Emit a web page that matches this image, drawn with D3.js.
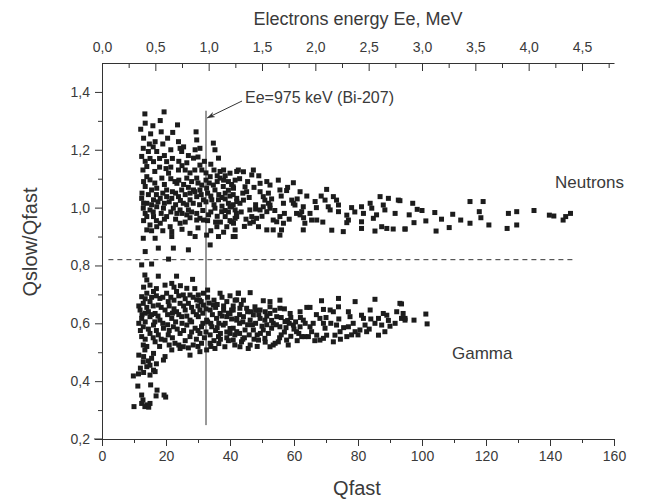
<!DOCTYPE html>
<html><head><meta charset="utf-8">
<script src="https://cdn.jsdelivr.net/npm/d3@7"></script>
<style>body{margin:0;background:#fff} svg{display:block} text{font-family:"Liberation Sans",Arial,sans-serif}</style>
</head><body><svg id="c" width="653" height="501"></svg>
<script>
const xTicks=[0,20,40,60,80,100,120,140,160];
const xMinor=[10,30,50,70,90,110,130,150];
const yTicks=[0.2,0.4,0.6,0.8,1.0,1.2,1.4];
const yMinor=[0.3,0.5,0.7,0.9,1.1,1.3];
const eTicks=[0,0.5,1.0,1.5,2.0,2.5,3.0,3.5,4.0,4.5];
const eMinor=[0.25,0.75,1.25,1.75,2.25,2.75,3.25,3.75,4.25,4.75];
const threshold=0.82, thresholdRange=[2,148];
const biEnergy=0.975, biRange=[0.248,1.335];
const labels={top:"Electrons energy Ee, MeV",bottom:"Qfast",left:"Qslow/Qfast",ann:"Ee=975 keV (Bi-207)",n:"Neutrons",g:"Gamma"};

const neutrons=[
[13.4,1.324],[19.4,1.331],[18.2,1.301],[13.5,1.292],[15.9,1.283],[12.1,1.271],[23.6,1.286],[18.5,1.262],[22.1,1.26],[29.4,1.262],
[15.2,1.255],[16.6,1.228],[23.9,1.228],[29.6,1.234],[34.8,1.223],[12.9,1.205],[14.5,1.194],[17.1,1.194],[24.4,1.205],[24.9,1.194],
[29.1,1.2],[30.6,1.205],[35.3,1.2],[12.4,1.177],[16.1,1.159],[20.2,1.159],[28.6,1.171],[36.4,1.171],[14,1.142],[23.9,1.13],
[26,1.13],[30.6,1.147],[31.2,1.13],[33.8,1.107],[36.9,1.125],[40,1.119],[14,1.107],[15,1.096],[18.7,1.102],[20.8,1.119],
[22.8,1.09],[26.5,1.102],[28,1.09],[29.6,1.102],[31.2,1.078],[34.8,1.078],[36.9,1.102],[39.5,1.09],[42.1,1.125],[13.5,1.073],
[15.5,1.061],[17.1,1.067],[20.2,1.061],[23.4,1.084],[24.9,1.061],[28.6,1.061],[30.6,1.061],[32.7,1.067],[35.3,1.061],[37.9,1.073],
[41.1,1.067],[12.4,1.032],[14,1.015],[16.1,1.027],[18.2,1.032],[20.2,1.038],[21.8,1.032],[23.9,1.038],[25.4,1.015],[27.5,1.027],
[29.6,1.038],[31.7,1.027],[34.3,1.027],[36.4,1.027],[39.5,1.015],[42.1,1.021],[12.9,0.998],[15,0.992],[17.1,1.003],[19.2,0.998],
[22.3,0.998],[24.4,0.992],[27,0.992],[29.6,0.98],[35.3,0.998],[37.4,0.986],[40.5,1.003],[14,0.969],[16.1,0.969],[20.2,0.969],
[23.4,0.98],[26.5,0.975],[30.6,0.963],[33.3,0.975],[38.5,0.969],[41.6,0.963],[15,0.94],[18.2,0.946],[21.3,0.934],[24.4,0.946],
[29.6,0.957],[31.7,0.957],[35.9,0.934],[39,0.934],[41.1,0.946],[14,0.923],[17.1,0.934],[21.8,0.917],[27.5,0.911],[29.1,0.9],
[32.7,0.905],[36.4,0.9],[41.6,0.9],[12.9,0.894],[16.6,0.894],[21.8,0.9],[33.8,0.871],[13.5,0.848],[17.6,0.86],[22.3,0.86],
[27,0.854],[12.4,0.802],[15.5,0.805],[20.8,0.822],
[13,1.24],[14.8,1.22],[16,1.21],[19,1.22],[20.5,1.24],[21.5,1.2],[25.5,1.21],[27,1.18],[13.5,1.16],[15,1.17],
[18,1.17],[19.5,1.18],[22,1.17],[24,1.16],[26.5,1.155],[30,1.175],[32,1.16],[34,1.15],[12.8,1.13],[16.5,1.125],
[18,1.14],[20,1.135],[21.5,1.14],[25,1.145],[27.5,1.12],[29,1.13],[32.5,1.12],[35,1.13],[38.5,1.11],
[13,1.09],[16.5,1.085],[19.5,1.08],[21.5,1.1],[24,1.095],[25.5,1.08],[27,1.07],[30,1.085],[32.5,1.095],[33.5,1.085],
[36,1.09],[38,1.095],[40.5,1.08],[12.5,1.05],[14.5,1.045],[17,1.045],[19,1.05],[22,1.055],[23,1.05],[26,1.045],
[27.5,1.05],[29,1.055],[31,1.045],[33,1.05],[34,1.04],[36.5,1.045],[38.5,1.05],[40,1.04],
[13,1.015],[15.5,1.01],[17.5,1.02],[19.5,1.015],[21,1.02],[23,1.01],[24.5,1.025],[26.5,1.01],[28.5,1.015],[30.5,1.01],
[32.5,1.02],[35,1.01],[37.5,1.005],[38.5,1.03],[41,1.01],[13.5,0.98],[16,0.985],[18.5,0.98],[21.5,0.985],[25,0.98],
[28,0.985],[31.5,0.99],[34,0.985],[36,0.97],[39.5,0.985],[42,0.98],[13,0.955],[17,0.955],[19.5,0.96],[23,0.96],
[26,0.95],[27.5,0.965],[33,0.955],[37,0.95],[40,0.955],[15.5,0.92],[19,0.92],[25,0.925],[30,0.93],[34,0.92],[38,0.915],
[36,1.11],[38,1.13],[39.5,1.06],[41,1.045],[43,1.1],[44,1.05],[45.5,1.09],[46,1.035],[47.5,1.07],[48,1.01],
[49,1.11],[50,0.97],[52,1.05],[53,1.03],[54,0.99],[56,1.04],[57,0.98],[58,1.07],[61,1.03],[64,1.04],
[65,0.98],[67,1.0],[68.5,1.04],[43.5,0.985],[45,0.96],[44.5,0.935],[38.5,0.99],[37.5,1.035],[35.5,0.95],[48,0.995],
[58.5,0.96],[63,0.965],[69,0.95],[78,1.0],[79,0.985],[96,0.975],[100,0.99],
[42.6,1.13],[44.2,1.124],[47.3,1.13],[46.8,1.113],[41.6,1.095],[41,1.072],[44.7,1.072],[45.2,1.055],[49.4,1.084],[51.5,1.09],
[52.5,1.078],[55.1,1.095],[59.8,1.086],[55.6,1.061],[57.7,1.059],[61.9,1.055],[70.2,1.063],[49.4,1.055],[50.4,1.038],[42.1,1.032],
[44.2,1.026],[43.1,1.015],[50.9,1.026],[52,1.015],[52.5,0.998],[56.7,1.015],[59.3,1.026],[60.3,1.009],[62.9,1.003],[62.4,0.986],
[66.6,1.021],[69.7,1.026],[72.3,1.038],[73.3,1.026],[73.9,1.009],[70.7,1.003],[71.3,0.992],[73.9,0.986],[76.5,0.974],[77,0.957],
[81.1,1.003],[83.8,1.015],[84.3,0.998],[87.9,1.009],[88.4,0.992],[86.9,1.038],[89.5,1.032],[92.6,1.026],[81.7,0.98],[84.8,0.963],
[85.8,0.975],[91.6,0.98],[87.4,0.934],[89,0.928],[91,0.926],[94.7,0.926],[81.1,0.951],[81.1,0.928],[85.3,0.919],[76.5,0.948],
[75.4,0.917],[71.8,0.922],[65.5,0.957],[67.1,0.957],[63.4,0.946],[62.9,0.923],[55.6,0.969],[56.7,0.946],[56.1,0.923],[55.6,0.905],
[53.5,0.957],[54.6,0.951],[46.2,0.992],[46.8,0.969],[48.3,0.963],[47.3,0.951],[49.4,0.992],[50.4,1.003],[51.5,0.986],[52.5,1.009],
[40,1.003],[41.6,0.992],[42.1,0.969],[40.5,0.951],[41.6,0.923],[41,0.9],[46.2,0.946],[48.9,0.934],[51.5,0.923],[53.5,0.923],
[59.8,1.015],[60.8,0.98],[61.9,0.975],
[93.1,1.024],[97.1,1.015],[98.5,0.994],[94.7,0.926],[97.5,0.948],[101.2,0.954],[104.4,0.919],[104,0.983],[106.1,0.96],[108.5,0.931],
[109.6,0.977],[112.1,0.957],[115,1.021],[115,0.946],[119.1,1.021],[117.9,0.986],[118.4,0.965],[120.9,0.94],[127,0.98],[129.6,0.986],
[126.6,0.928],[129.6,0.94],[135,0.99],[139.8,0.974],[141.2,0.971],[144.1,0.957],[144.9,0.969],[146.4,0.98]
];

const gamma=[
[13.4,0.767],[14,0.75],[17.6,0.763],[23.3,0.763],[28.3,0.752],[15,0.732],[19.7,0.732],[21.8,0.738],[26.5,0.721],
[12.4,0.692],[14,0.704],[16.1,0.71],[18.1,0.686],[20.2,0.704],[23.3,0.71],[25.4,0.698],[27.5,0.698],[30.1,0.698],[31.7,0.704],[36.9,0.704],[42.6,0.704],
[12.9,0.669],[15,0.675],[17.6,0.663],[20.7,0.675],[24.4,0.669],[27,0.669],[29.6,0.681],[31.7,0.663],[34.8,0.663],[39,0.675],[42.1,0.681],
[11.9,0.646],[14.5,0.64],[16.6,0.634],[19.7,0.646],[23.3,0.64],[26,0.646],[28.5,0.64],[30.6,0.646],[33.8,0.646],[36.9,0.634],[40.5,0.646],
[12.4,0.617],[15,0.623],[18.1,0.611],[21.8,0.617],[24.9,0.623],[27.5,0.611],[30.1,0.623],[32.7,0.611],[35.8,0.617],[39,0.623],[42.1,0.611],
[12.9,0.588],[16.1,0.594],[19.2,0.583],[22.3,0.588],[26.5,0.594],[29.1,0.583],[31.1,0.588],[34.3,0.588],[37.9,0.594],[41,0.583],
[12.4,0.554],[15,0.565],[17.6,0.56],[20.7,0.56],[24.4,0.565],[27.5,0.554],[30.6,0.565],[33.8,0.56],[36.4,0.554],[40,0.565],
[12.9,0.525],[16.6,0.536],[19.7,0.542],[22.8,0.531],[25.4,0.519],[28.5,0.525],[31.1,0.531],[33.8,0.531],[38.4,0.519],
[13.4,0.508],[16.1,0.496],[19.7,0.485],[21.8,0.508],[24.4,0.513],[27.5,0.49],[30.6,0.502],[32.7,0.508],[35.3,0.513],
[12.9,0.467],[15.5,0.479],[19.2,0.473],[14,0.45],[16.1,0.438],[9.8,0.418],[11.4,0.425],[15,0.421],[16.6,0.433],
[11.2,0.383],[15.2,0.387],[17.2,0.369],[16.9,0.349],[19.4,0.352],[19.9,0.345],[12.4,0.352],[12.8,0.335],[14,0.318],[12.4,0.323],
[15,0.323],[10,0.312],[13.4,0.312],[14.6,0.31],
[11.5,0.49],[13,0.485],[14.5,0.47],[12,0.445],[15,0.455],[13,0.43],[17,0.46],
[13,0.725],[17,0.72],[22.5,0.725],[24.5,0.73],[29,0.72],[33,0.715],
[13.5,0.685],[15.5,0.69],[17,0.695],[19,0.69],[21.5,0.69],[22.5,0.68],[24,0.695],[26,0.685],[28.5,0.69],[30.5,0.68],[33,0.69],[35,0.68],[37.5,0.69],[40,0.695],
[11.5,0.66],[14,0.655],[16,0.66],[18.5,0.655],[21,0.66],[22.5,0.65],[25.5,0.66],[28,0.655],[30,0.66],[32.5,0.65],[35.5,0.655],[38,0.66],[41,0.66],[43.5,0.665],
[12.5,0.63],[13.5,0.635],[15.5,0.63],[17.5,0.625],[20.5,0.63],[22,0.635],[24,0.63],[26.5,0.625],[29.5,0.63],[31.5,0.635],[34.5,0.63],[37.5,0.625],[39.5,0.635],[45.5,0.64],[48,0.645],[51,0.64],[54,0.645],[57,0.65],
[11.5,0.6],[13.5,0.605],[16.5,0.605],[19,0.6],[20.5,0.595],[23,0.605],[25,0.6],[28,0.605],[31.5,0.6],[33,0.605],[36.5,0.6],[38.5,0.6],[43,0.6],[45.5,0.595],[48,0.6],[51.5,0.595],[53.5,0.6],[58,0.61],[60.5,0.605],
[12,0.575],[14.5,0.58],[17,0.575],[21,0.575],[23.5,0.58],[25.5,0.575],[28,0.57],[30,0.575],[32.5,0.57],[35.5,0.575],[39,0.57],[43,0.565],[48.5,0.56],[52,0.565],[56,0.56],[59,0.555],
[13.5,0.545],[16,0.55],[18.5,0.545],[22,0.55],[26,0.54],[29.5,0.545],[32,0.55],[35,0.54],[37,0.545],[39.5,0.54],[44.5,0.55],[47.5,0.545],[61,0.54],
[14,0.52],[18,0.52],[21,0.525],[24,0.525],[27,0.515],[30,0.52],[34,0.52],[36.5,0.53],[41.5,0.525],[48.5,0.52],
[31,0.675],[33.5,0.67],[36,0.665],[38,0.645],[40.5,0.615],[43,0.63],[44,0.605],[46.5,0.64],[47,0.595],[49,0.63],
[50,0.59],[51.5,0.625],[53,0.61],[54.5,0.595],[56,0.62],[57.5,0.585],[59,0.62],[60,0.58],[61.5,0.565],[34,0.6],
[36,0.585],[37,0.565],[39,0.55],[41.5,0.56],[44,0.545],[46,0.56],[49.5,0.565],[51,0.535],[55.5,0.55],[57,0.57],
[58.5,0.6],[62,0.62],[63.5,0.6],[66,0.6],[67,0.63],[70,0.62],[71.5,0.6],[74,0.615],[75.5,0.585],[78.5,0.6],
[80,0.56],[83.5,0.58],[84,0.615],[90,0.59],[89.5,0.61],[66.5,0.54],[74.5,0.545],[78,0.56],
[42.6,0.704],[46.3,0.706],[41.6,0.68],[44.2,0.68],[50.4,0.678],[52.5,0.675],[55.6,0.68],[68.6,0.678],[73.9,0.686],[79.1,0.675],
[85.3,0.683],[93.1,0.669],[64,0.655],[65,0.655],[71.3,0.646],[72.3,0.64],[73.9,0.657],[69.2,0.648],[77,0.64],[77.5,0.623],
[81.1,0.628],[81.7,0.617],[83.8,0.646],[87.9,0.634],[89,0.628],[86.4,0.617],[92.1,0.64],[91.6,0.6],[93.6,0.617],[94.7,0.611],
[85.3,0.6],[87.4,0.594],[88.4,0.571],[86.4,0.559],[80.6,0.577],[82.7,0.571],[82.2,0.594],[77,0.588],[79.1,0.571],[76.5,0.554],
[73.3,0.594],[74.4,0.571],[72.8,0.559],[72.3,0.536],[68.1,0.617],[69.2,0.6],[69.7,0.583],[70.2,0.559],[69.2,0.548],[67.1,0.559],
[68.1,0.542],[63.4,0.554],[62.4,0.554],[64.5,0.554],[65,0.588],[65.5,0.571],[61.9,0.588],[62.9,0.611],[59.8,0.594],[60.8,0.571],
[57.7,0.542],[58.2,0.525],[55.1,0.536],[53.5,0.525],[55.6,0.588],[57.2,0.606],[54.6,0.623],[52.5,0.634],[50.9,0.611],[49.4,0.617],
[47.3,0.629],[46.3,0.611],[44.2,0.623],[42.1,0.617],[40,0.634],[40,0.582],[42.1,0.571],[44.7,0.577],[47.3,0.577],[50.4,0.577],
[53,0.583],[41,0.542],[43.6,0.536],[46.3,0.525],[48.9,0.542],[50.9,0.548],[43.1,0.519],[45.7,0.513],[52.5,0.519],[54.1,0.531],
[41,0.646],[43.1,0.652],[45.2,0.652],[47.8,0.657],[49.4,0.646],[52.5,0.657],[55.6,0.652],[58.8,0.634],[61.9,0.64],
[93.6,0.667],[94.1,0.634],[94.7,0.617],[97.5,0.611],[101.2,0.632],[101.6,0.598]
];

const svg=d3.select("#c");
svg.append("rect").attr("width",653).attr("height",501).attr("fill","#fff");
const x=d3.scaleLinear().domain([0,160]).range([102,614]);
const xe=d3.scaleLinear().domain([0,4.8]).range([102,614]);
const y=d3.scaleLinear().domain([0.2,1.5]).range([439,63]);
const fmt=d=>d3.format(".1f")(d).replace(".",",");
const axCol="#333", txCol="#3a3a3a";

function style(g){g.selectAll("path,line").attr("stroke",axCol).attr("stroke-width",1);
  g.selectAll("text").attr("fill",txCol).style("font-size","14px").style("font-family","'Liberation Sans',Arial,sans-serif");}

const gb=svg.append("g").attr("transform","translate(0,439)");
gb.call(d3.axisBottom(x).tickValues(xTicks).tickSize(7).tickSizeOuter(0).tickPadding(5).tickFormat(d3.format("d")));
svg.append("g").attr("transform","translate(0,439)").call(d3.axisBottom(x).tickValues(xMinor).tickSize(4).tickFormat("")).call(g=>g.select(".domain").remove()).call(style);
style(gb);
svg.append("line").attr("x1",94).attr("x2",102).attr("y1",439).attr("y2",439).attr("stroke",axCol);
const gt=svg.append("g").attr("transform","translate(0,63)");
gt.call(d3.axisTop(xe).tickValues(eTicks).tickSize(-8).tickSizeOuter(0).tickPadding(11).tickFormat(fmt));
svg.append("g").attr("transform","translate(0,63)").call(d3.axisTop(xe).tickValues(eMinor).tickSize(-5).tickFormat("")).call(g=>g.select(".domain").remove()).call(style);
style(gt);
const gl=svg.append("g").attr("transform","translate(102,0)");
gl.call(d3.axisLeft(y).tickValues(yTicks).tickSize(7).tickSizeOuter(0).tickPadding(5).tickFormat(fmt));
svg.append("g").attr("transform","translate(102,0)").call(d3.axisLeft(y).tickValues(yMinor).tickSize(4).tickFormat("")).call(g=>g.select(".domain").remove()).call(style);
style(gl);

svg.append("line").attr("x1",x(thresholdRange[0])).attr("x2",x(thresholdRange[1]))
  .attr("y1",y(threshold)).attr("y2",y(threshold)).attr("stroke","#333").attr("stroke-dasharray","5,4");
svg.append("line").attr("x1",xe(biEnergy)).attr("x2",xe(biEnergy)).attr("y1",y(biRange[0])).attr("y2",y(biRange[1])).attr("stroke","#333");

const pts=svg.append("g");
function draw(data){pts.selectAll(null).data(data).enter().append("rect")
  .attr("x",d=>x(d[0])-2.5).attr("y",d=>y(d[1])-2.5).attr("width",5).attr("height",5).attr("fill","#1c1c1c");}
draw(neutrons); draw(gamma);

svg.append("defs").append("marker").attr("id","ah").attr("viewBox","0 0 10 10").attr("refX",10).attr("refY",5)
  .attr("markerWidth",8).attr("markerHeight",8).attr("orient","auto").append("path").attr("d","M0,1.5L10,5L0,8.5L3,5Z").attr("fill","#333");
svg.append("line").attr("x1",242).attr("y1",101).attr("x2",xe(biEnergy)+1).attr("y2",118).attr("stroke","#333").attr("marker-end","url(#ah)");
svg.append("text").attr("x",245).attr("y",103).text(labels.ann).attr("fill",txCol).style("font-size","16px");

svg.append("text").attr("x",358).attr("y",25).attr("text-anchor","middle").text(labels.top).attr("fill",txCol).style("font-size","18px");
svg.append("text").attr("x",357).attr("y",495).attr("text-anchor","middle").text(labels.bottom).attr("fill",txCol).style("font-size","20px");
svg.append("text").attr("transform","translate(37,242) rotate(-90)").attr("text-anchor","middle").text(labels.left).attr("fill",txCol).style("font-size","20px");
svg.append("text").attr("x",555).attr("y",188).text(labels.n).attr("fill",txCol).style("font-size","17px");
svg.append("text").attr("x",452).attr("y",359).text(labels.g).attr("fill",txCol).style("font-size","17px");
</script></body></html>
